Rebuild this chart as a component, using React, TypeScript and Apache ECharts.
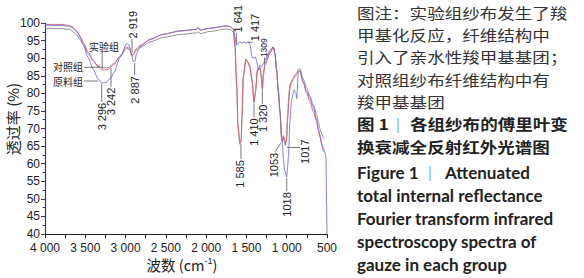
import React, { useEffect, useRef } from "react";
import * as echarts from "echarts";

// Spectra: [wavenumber (cm-1), transmittance (%)]
const experimentSpectrum = [
  [4000, 99.6], [3800, 99.6], [3700, 99.3], [3669, 99.0], [3600, 97.6], [3566, 96.3], [3525, 94.5], [3466, 91.8],
  [3401, 89.3], [3342, 87.5], [3276, 86.6], [3218, 86.8], [3144, 88.2], [3069, 90.5], [2986, 93.2], [2950, 92.8],
  [2924, 90.9], [2904, 91.0], [2871, 92.6], [2821, 93.6], [2697, 95.3], [2532, 96.8], [2325, 97.7], [2117, 98.2],
  [2100, 98.6], [2076, 98.0], [1952, 98.5], [1745, 99.1], [1704, 99.0], [1663, 98.2], [1642, 94], [1621, 83],
  [1605, 71], [1580, 66], [1565, 67], [1555, 74], [1539, 85], [1506, 89.6], [1477, 88.6], [1456, 87.2],
  [1431, 83.5], [1406, 77.8], [1388, 80.5], [1365, 86.2], [1332, 87.2], [1311, 84.5], [1303, 81.5], [1290, 85.5],
  [1270, 88.5], [1208, 91.6], [1167, 93.1], [1146, 91.2], [1125, 86.4], [1105, 80.4], [1084, 74.5], [1063, 67],
  [1053, 66.5], [1040, 68], [1025, 66.5], [1015, 65.5], [1000, 67], [990, 72], [972, 78], [960, 81.5],
  [939, 83], [919, 84], [900, 84.6], [876, 85.4], [857, 86.2], [836, 86.4], [798, 83.2], [752, 80],
  [711, 77.5], [670, 74.8], [628, 71.9], [608, 69.5], [587, 67.5], [562, 65], [546, 63.4],
];

const controlSpectrum = [
  [4000, 98.5], [3800, 98.4], [3700, 98.2], [3669, 97.8], [3600, 96.5], [3566, 95.3], [3525, 93.8], [3466, 91.3],
  [3401, 89.2], [3342, 87.8], [3276, 87.2], [3218, 87.3], [3144, 88.5], [3069, 90.5], [2986, 92.8], [2950, 92.4],
  [2924, 90.8], [2904, 91.0], [2871, 92.2], [2821, 93.0], [2697, 94.6], [2532, 95.9], [2325, 96.7], [2117, 97.2],
  [2100, 97.5], [2076, 97.0], [1952, 97.6], [1745, 98.3], [1704, 98.2], [1663, 97.5], [1642, 93], [1621, 82],
  [1605, 70], [1580, 65.5], [1565, 66.5], [1555, 73], [1539, 84.5], [1506, 89.8], [1477, 88.8], [1456, 87.6],
  [1431, 84], [1406, 77.2], [1388, 80], [1365, 86.6], [1332, 87.5], [1311, 84], [1303, 80.9], [1290, 85],
  [1270, 88], [1208, 91.4], [1167, 93.2], [1146, 91.4], [1125, 86.8], [1105, 81], [1084, 75], [1063, 67],
  [1053, 66], [1040, 67.5], [1025, 66], [1015, 65.2], [1000, 68], [990, 74], [972, 80], [960, 82.5],
  [939, 83.7], [919, 84.2], [900, 85.2], [876, 85.8], [857, 86.8], [836, 87.0], [798, 84.3], [752, 81.5],
  [711, 79.2], [670, 76.6], [628, 74], [608, 72], [587, 70], [562, 68.3], [546, 67.2],
];

const rawSpectrum = [
  [4000, 99.4], [3800, 99.3], [3700, 99.1], [3669, 98.8], [3600, 97.4], [3566, 96.0], [3525, 93.8], [3466, 90.2],
  [3401, 86.8], [3342, 84.2], [3296, 82.9], [3242, 83.1], [3180, 84.5], [3144, 86.0], [3069, 90.2], [2986, 94.1],
  [2960, 93.8], [2930, 91.5], [2904, 89.0], [2887, 89.0], [2860, 91.5], [2821, 93.3], [2697, 95.3], [2532, 96.8],
  [2325, 97.8], [2117, 98.2], [2100, 98.8], [2076, 98.0], [1952, 98.5], [1745, 99.2], [1704, 99.0], [1663, 98.3],
  [1642, 96.0], [1621, 93.7], [1605, 94.2], [1580, 94.6], [1555, 94.2], [1539, 94.7], [1506, 94.3], [1477, 94.6],
  [1456, 93.8], [1431, 90.3], [1406, 90.0], [1388, 90.3], [1365, 88.5], [1357, 86.6], [1332, 88.0], [1311, 87.5],
  [1290, 88.5], [1270, 89.4], [1208, 92.2], [1167, 93.2], [1146, 91.0], [1125, 86.6], [1105, 81.0], [1084, 75.2],
  [1063, 68.0], [1053, 65.0], [1040, 61.0], [1025, 58.0], [1000, 56.2], [990, 59.0], [978, 62.0], [960, 72.0],
  [939, 78.3], [919, 80.0], [910, 81.0], [885, 80.0], [876, 78.5], [857, 85.7], [836, 86.4], [798, 83.5],
  [752, 80.5], [711, 78.5], [670, 76.1], [628, 72.5], [608, 70.0], [587, 68.1], [562, 65.5], [546, 64.5],
  [532, 63.5], [513, 62.0], [505, 48.0], [500, 40.0],
];

const seriesNames = ["对照组", "实验组", "原料组"];

// Peak labels (text)
const peakTexts = ["2 919", "2 887", "3 296", "3 242", "1 641", "1 417", "1309", "1 410", "1 320", "1 585", "1053", "1017", "1018"];

const captionZh = [
  "图注：实验组纱布发生了羧",
  "甲基化反应，纤维结构中",
  "引入了亲水性羧甲基基团；",
  "对照组纱布纤维结构中有",
  "羧甲基基团",
];
const titleZh = ["图 1", "各组纱布的傅里叶变", "换衰减全反射红外光谱图"];
const titleEn = ["Figure 1", "Attenuated"];
const captionEn = ["total internal reflectance", "Fourier transform infrared", "spectroscopy spectra of", "gauze in each group"];

// layout of peak annotations (data coordinates): text anchor, alignment, leader line
const peakLayout = [
  { at: [2908, 95.6], align: "left", line: [[2920, 95.6], [2920, 91.6]], size: 11 },
  { at: [2883, 84.9], align: "right", line: [[2887, 88.6], [2887, 85.2]], size: 11 },
  { at: [3296, 77.3], align: "right", line: [[3296, 82.6], [3296, 77.6]], size: 11 },
  { at: [3181, 81.6], align: "right", line: [[3181, 87.2], [3181, 81.9]], size: 11 },
  { at: [1607, 97.3], align: "left", line: [[1625, 97.2], [1625, 94.2]], size: 11 },
  { at: [1394, 94.8], align: "left", line: [[1481, 94.5], [1425, 94.5]], size: 11 },
  { at: [1276, 90.3], align: "left", line: [[1276, 90.2], [1276, 88.4]], size: 8.5 },
  { at: [1400, 72.9], align: "right", line: [[1406, 77.0], [1406, 73.2]], size: 11 },
  { at: [1290, 76.8], align: "right", line: [[1303, 80.8], [1303, 77.0]], size: 11 },
  { at: [1580, 61.0], align: "right", line: [[1568, 65.6], [1568, 61.3]], size: 11 },
  { at: [1158, 63.1], align: "right", line: [[1140, 63.5], [1075, 65.8]], size: 11 },
  { at: [773, 63.4], align: "center", line: [[997, 64.6], [835, 64.6]], size: 11 },
  { at: [997, 51.9], align: "right", line: [[1000, 56.0], [1000, 52.2]], size: 11 },
];

const groupLabelLayout = [
  { text: "实验组", at: [3268, 93.4], align: "center", line: [[3290, 91.8], [3290, 87.0]] },
  { text: "对照组", at: [3528, 87.5], align: "right", line: [[3516, 87.4], [3316, 87.4]] },
  { text: "原料组", at: [3528, 83.3], align: "right", line: [[3516, 83.5], [3341, 83.5]] },
];

const fmtWn = (v: number) => {
  if (v % 500 !== 0) return "";
  if (v >= 1000) return `${Math.floor(v / 1000)} ${String(v % 1000).padStart(3, "0")}`;
  return String(v);
};

export default function App() {
  const ref = useRef<HTMLDivElement>(null);
  useEffect(() => {
    document.body.style.margin = "0";
    const chart = echarts.init(ref.current!, null, { renderer: "svg" });
    const numFont = "'Liberation Sans', Arial, sans-serif";
    const cjkFont = "'Noto Sans CJK SC', sans-serif";
    chart.setOption({
      animation: false,
      backgroundColor: "#ffffff",
      grid: { left: 45, right: 257, top: 23, bottom: 44, containLabel: false },
      xAxis: {
        type: "value",
        min: 500,
        max: 4000,
        interval: 250,
        inverse: true,
        axisLine: { onZero: false, lineStyle: { color: "#222", width: 1 } },
        axisTick: { show: true, length: 4, lineStyle: { color: "#222" } },
        axisLabel: { formatter: fmtWn, fontSize: 12, color: "#222", fontFamily: numFont, margin: 7.5, showMinLabel: true, showMaxLabel: true },
        splitLine: { show: false },
      },
      yAxis: {
        type: "value",
        min: 40,
        max: 100,
        interval: 5,
        axisLine: { show: true, lineStyle: { color: "#34346a", width: 1.2 } },
        axisTick: { show: true, length: 4, lineStyle: { color: "#34346a" } },
        minorTick: { show: true, splitNumber: 2, length: 2.5, lineStyle: { color: "#34346a" } },
        axisLabel: { fontSize: 12, color: "#222", fontFamily: numFont, margin: 5 },
        splitLine: { show: false },
      },
      series: [
        { name: seriesNames[0], type: "line", data: controlSpectrum, showSymbol: false, smooth: 0.25, smoothMonotone: "x", lineStyle: { color: "#858585", width: 0.9 }, z: 2 },
        { name: seriesNames[1], type: "line", data: experimentSpectrum, showSymbol: false, smooth: 0.25, smoothMonotone: "x", lineStyle: { color: "#dc5a6a", width: 0.9 }, z: 3 },
        { name: seriesNames[2], type: "line", data: rawSpectrum, showSymbol: false, smooth: 0.25, smoothMonotone: "x", lineStyle: { color: "#7070d4", width: 0.9 }, z: 4 },
      ],
    });

    const px = (p: number[]) => chart.convertToPixel({ gridIndex: 0 }, p) as number[];
    const g: any[] = [];
    const lineEl = (a: number[], b: number[]) => ({
      type: "line",
      shape: { x1: a[0], y1: a[1], x2: b[0], y2: b[1] },
      style: { stroke: "#555", lineWidth: 0.8 },
      z: 10,
    });
    const txt = (x: number, y: number, text: string, font: string, fill: string, align = "left", lh = 18, rotation = 0, scaleX = 1) => ({
      type: "text",
      x,
      y,
      rotation,
      scaleX,
      z: 11,
      style: { text, font, fill, align, verticalAlign: "middle", lineHeight: lh },
    });

    peakLayout.forEach((p, i) => {
      g.push(lineEl(px(p.line[0]), px(p.line[1])));
      const t = px(p.at);
      g.push(txt(t[0], t[1], peakTexts[i], `${p.size}px ${numFont}`, "#222", p.align, p.size, Math.PI / 2));
    });

    groupLabelLayout.forEach((p) => {
      g.push(lineEl(px(p.line[0]), px(p.line[1])));
      const t = px(p.at);
      g.push(txt(t[0], t[1], p.text, `10px ${cjkFont}`, "#222", p.align, 10));
    });

    // axis names
    g.push(txt(12, 119, "透过率 (%)", `15px ${cjkFont}`, "#222", "center", 16, Math.PI / 2));
    g.push({
      type: "text",
      x: 182,
      y: 264,
      style: {
        text: "{n|波数 (cm}{s|-1}{n|)}",
        align: "center",
        verticalAlign: "middle",
        rich: {
          n: { fontSize: 14.5, fontFamily: cjkFont, fill: "#222", lineHeight: 16 },
          s: { fontSize: 9, fontFamily: numFont, fill: "#222", lineHeight: 10, verticalAlign: "top" },
        },
      },
    });

    // caption on the right
    const x0 = 357;
    const sx = 1.17;
    const zhY = [12.5, 35, 57, 79.5, 101.5];
    captionZh.forEach((s, i) => {
      g.push(txt(x0, zhY[i], s, `15px ${cjkFont}`, "#333", "left", 16, 0, sx));
    });
    const boldZh = `bold 15px ${cjkFont}`;
    g.push(txt(x0, 124, titleZh[0], boldZh, "#222", "left", 16, 0, sx));
    g.push(txt(398, 124, "｜", `15px ${cjkFont}`, "#3a5fa8", "center", 16));
    g.push(txt(410, 124, titleZh[1], boldZh, "#222", "left", 16, 0, sx));
    g.push(txt(x0, 146.5, titleZh[2], boldZh, "#222", "left", 16, 0, sx));

    const enFont = "bold 17px Lato, 'Open Sans', sans-serif";
    g.push(txt(x0, 172, titleEn[0], enFont, "#222"));
    g.push(txt(430, 172, "｜", `15px ${cjkFont}`, "#3a5fa8", "center", 16));
    g.push(txt(445, 172, titleEn[1], enFont, "#222"));
    const enY = [195, 218, 241, 264];
    captionEn.forEach((s, i) => {
      g.push(txt(x0, enY[i], s, enFont, "#222"));
    });

    chart.setOption({ graphic: g });
    return () => chart.dispose();
  }, []);
  return <div ref={ref} style={{ width: 584, height: 278 }} />;
}
